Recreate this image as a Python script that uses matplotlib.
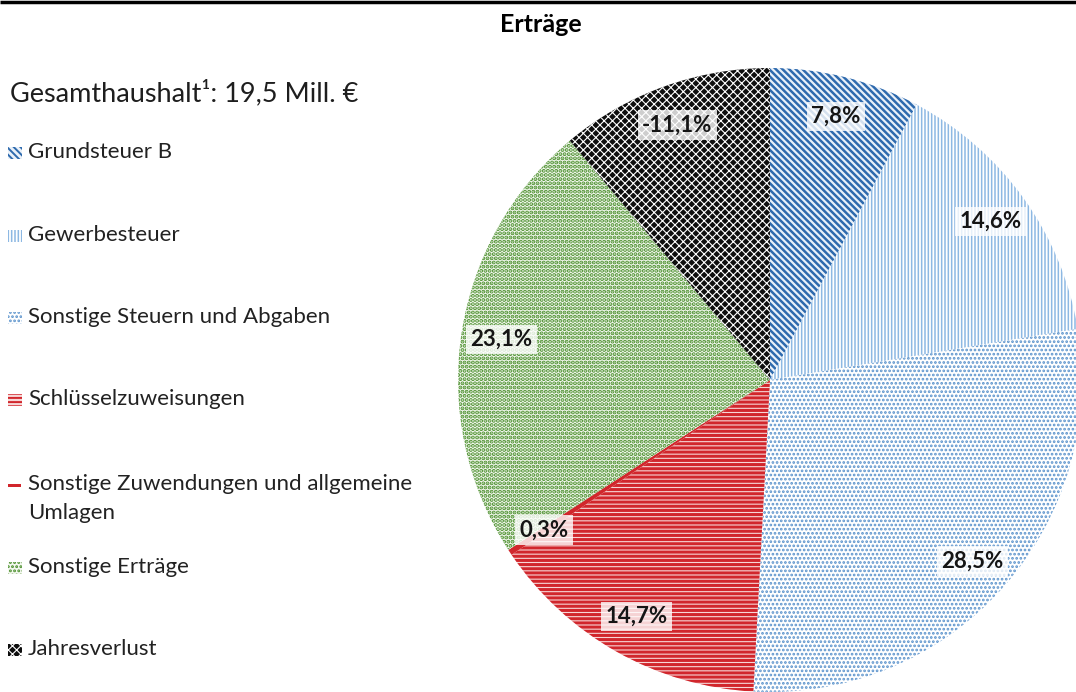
import numpy as np
import matplotlib.pyplot as plt
from matplotlib.patches import Rectangle

plt.rcParams['font.family'] = ['Lato', 'DejaVu Sans']
plt.rcParams['hatch.linewidth'] = 1.0

# Ertragsarten (Anteil in %), im Uhrzeigersinn ab 12 Uhr
categories = ['Grundsteuer B', 'Gewerbesteuer', 'Sonstige Steuern und Abgaben',
              'Schlüsselzuweisungen', 'Sonstige Zuwendungen und allgemeine\nUmlagen',
              'Sonstige Erträge', 'Jahresverlust']
shares = [7.8, 14.6, 28.5, 14.7, 0.3, 23.1, -11.1]
total_text = 'Gesamthaushalt¹: 19,5 Mill. €'

# (Füllfarbe, Schraffurfarbe, Muster, Linienstärke)
styles = [
    ('#EAF1F9', '#2E6AAE', '\\\\\\\\\\', 1.8),
    ('white', '#8DB8E3', '|||||', 1.1),
    ('white', '#5B93CC', '....', 1.3),
    ('#F7D6D6', '#D1262C', '----', 2.2),
    ('#D1262C', '#D1262C', '', 1.0),
    ('#F4F8F0', '#4A8F2C', '....', 2.0),
    ('#0E0E0E', 'white', 'xxxx', 0.8),
]

W, H = 1076, 692
fig = plt.figure(figsize=(W / 100, H / 100), dpi=100)

# Kreisdiagramm
ax = fig.add_axes([0, 0, 1, 1])
cx, cy, r = 770, H - 380, 312
wedges, _ = ax.pie([abs(v) for v in shares], center=(cx, cy), radius=r,
                   startangle=90, counterclock=False)
for w, (fc, hc, hatch, lw) in zip(wedges, styles):
    w.set_facecolor(fc)
    w.set_edgecolor(hc)
    w.set_linewidth(0)
    w.set_hatch(hatch)
    if hasattr(w, 'set_hatch_linewidth'):
        w.set_hatch_linewidth(lw)

for w, v in zip(wedges, shares):
    mid = np.deg2rad((w.theta1 + w.theta2) / 2)
    x = cx + 0.87 * r * np.cos(mid)
    y = cy + 0.87 * r * np.sin(mid)
    ax.text(x, y, f'{v:.1f}%'.replace('.', ','), ha='center', va='center',
            fontsize=16, fontweight='bold', color='#151515',
            bbox=dict(facecolor='white', alpha=0.8, edgecolor='none', pad=3))
ax.set_xlim(0, W)
ax.set_ylim(0, H)
ax.set_aspect('auto')
ax.axis('off')

# Titel, Linie und Legende in Pixelkoordinaten
ov = fig.add_axes([0, 0, 1, 1])
ov.set_xlim(0, W)
ov.set_ylim(H, 0)
ov.axis('off')
ov.plot([0, W], [2, 2], color='black', lw=2.5, solid_capstyle='butt')
ov.text(541, 24, 'Erträge', ha='center', va='center', fontsize=18, fontweight='bold')
ov.text(10, 93, total_text, ha='left', va='center', fontsize=19.5, color='#1E1E1E')

rows = [153, 236, 318, 400, 485, 568, 650]
for cat, yrow, (fc, hc, hatch, lw) in zip(categories, rows, styles):
    if hatch:
        p = Rectangle((8, yrow - 6), 14, 12, facecolor=fc, edgecolor=hc,
                      linewidth=0, hatch=hatch)
        if hasattr(p, 'set_hatch_linewidth'):
            p.set_hatch_linewidth(min(lw, 1.4))
        ov.add_patch(p)
    else:
        ov.add_patch(Rectangle((8, yrow - 1), 13, 2.5, facecolor=fc, linewidth=0))
    if '\n' in cat:
        ov.text(28, yrow - 11, cat, ha='left', va='top',
                fontsize=16, color='#222222', linespacing=1.55)
    else:
        ov.text(28, yrow - 1, cat, ha='left', va='center',
                fontsize=16, color='#222222')

fig.savefig('out.png', dpi=100)
